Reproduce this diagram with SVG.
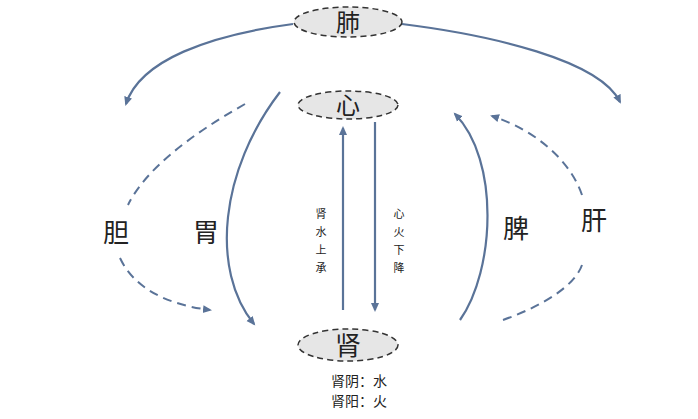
<svg xmlns="http://www.w3.org/2000/svg" width="698" height="419" viewBox="0 0 698 419">
<style>
.node{fill:#e6e6e6;stroke:#333;stroke-width:1.5;stroke-dasharray:6 4}
.t{font-family:"Noto Sans CJK SC",sans-serif;fill:#222;text-anchor:middle}
.s{stroke:#5a7398;stroke-width:2.2;fill:none}
.d{stroke:#5a7398;stroke-width:2;fill:none;stroke-dasharray:9 6}
</style>
<defs><marker id="a" markerWidth="10" markerHeight="10" refX="7" refY="5" orient="auto" markerUnits="userSpaceOnUse"><path d="M0,1 L9,5 L0,9 Z" fill="#5a7398"/></marker></defs>
<rect width="698" height="419" fill="#fff"/>
<g id="connectors">
<path class="s" d="M293,24 C210,35 140,60 126,104" marker-end="url(#a)"/>
<path class="s" d="M402,24 C490,35 600,60 620,102" marker-end="url(#a)"/>
<path class="s" d="M280,92 C220,170 210,270 254,324" marker-end="url(#a)"/>
<path class="s" d="M460,320 C495,270 500,160 455,114" marker-end="url(#a)"/>
<path class="d" d="M245,104 C190,135 145,170 128,205"/>
<path class="d" d="M120,258 C135,290 170,305 210,310" marker-end="url(#a)"/>
<path class="d" d="M503,320 C545,305 575,285 582,265"/>
<path class="d" d="M582,195 C570,160 535,130 492,116" marker-end="url(#a)"/>
<line class="s" x1="343" y1="310" x2="343" y2="128" marker-end="url(#a)"/>
<line class="s" x1="375" y1="122" x2="375" y2="310" marker-end="url(#a)"/>
</g>
<g id="fei"><ellipse class="node" cx="348" cy="22" rx="54" ry="15"/><text class="t" x="348" y="31" font-size="24">肺</text></g>
<g id="xin"><ellipse class="node" cx="348" cy="105" rx="50" ry="14"/><text class="t" x="348" y="114" font-size="24">心</text></g>
<g id="shen"><ellipse class="node" cx="348" cy="345" rx="50" ry="16"/><text class="t" x="348" y="355" font-size="26">肾</text>
<text class="t" x="359" y="386" font-size="14">肾阴：水</text><text class="t" x="359" y="406" font-size="14">肾阳：火</text></g>
<g id="dan"><text class="t" x="116" y="242" font-size="26">胆</text></g>
<g id="wei"><text class="t" x="206" y="242" font-size="26">胃</text></g>
<g id="pi"><text class="t" x="516" y="238" font-size="26">脾</text></g>
<g id="gan"><text class="t" x="594" y="230" font-size="26">肝</text></g>
<g id="labels" font-size="11" fill="#444">
<text class="t" x="321" y="218">肾</text><text class="t" x="321" y="236">水</text><text class="t" x="321" y="254">上</text><text class="t" x="321" y="272">承</text>
<text class="t" x="399" y="218">心</text><text class="t" x="399" y="236">火</text><text class="t" x="399" y="254">下</text><text class="t" x="399" y="272">降</text>
</g>
</svg>
